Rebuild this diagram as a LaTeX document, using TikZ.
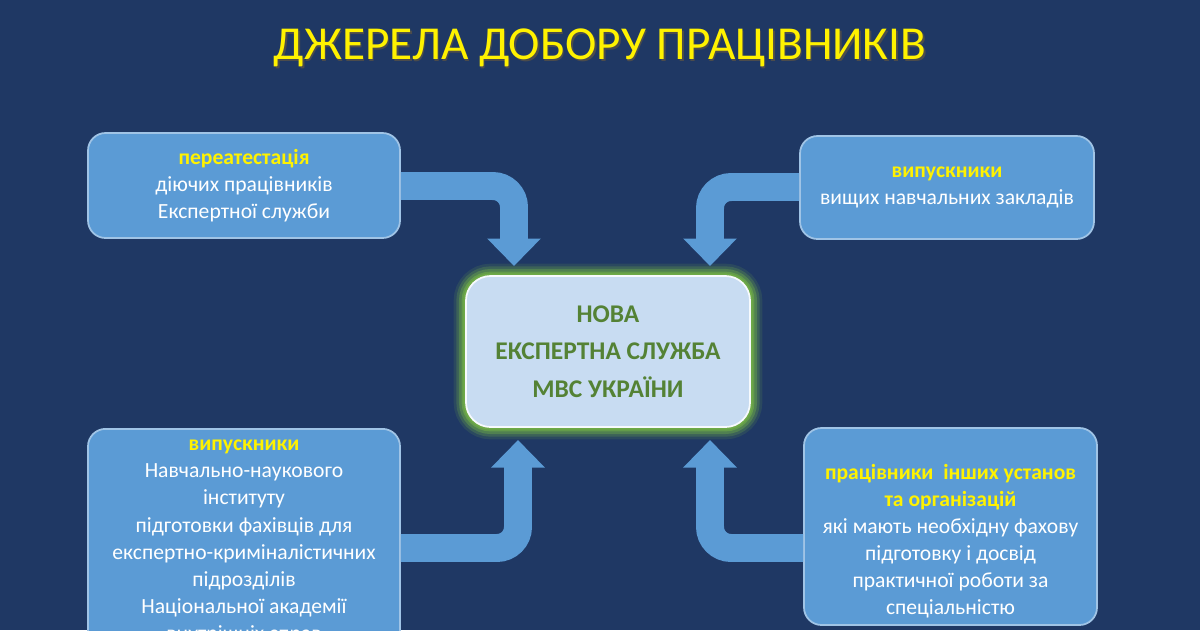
\documentclass[tikz,border=0pt]{standalone}
\usepackage{fontspec}
\setmainfont{Carlito}
\usetikzlibrary{arrows.meta}
\definecolor{bg}{RGB}{31,56,100}
\definecolor{bx}{RGB}{91,155,213}
\definecolor{bxl}{RGB}{160,196,230}
\definecolor{ctr}{RGB}{200,220,242}
\definecolor{grn}{RGB}{84,130,53}
\definecolor{glow}{RGB}{112,173,71}
\tikzset{
 srcbox/.style={draw=bxl,line width=1pt,fill=bx,rounded corners=10pt,text=white,align=center,font=\fontsize{12.3}{15.3}\selectfont,inner sep=0pt},
 txt/.style={text=white,align=center,font=\fontsize{12.3}{15.4}\selectfont,anchor=north},
 flow/.style={draw=bx,line width=15.9pt,rounded corners=12pt,-{Triangle[length=0.55cm 0,width=1.04cm 0]}}
}
\begin{document}
\begin{tikzpicture}[x=0.02cm,y=-0.02cm]
\fill[bg] (0,0) rectangle (1200,630);
\useasboundingbox (0,0) rectangle (1200,630);
\node[text=black!70,font=\fontsize{26.9}{30}\selectfont] at (601.5,49.5) {ДЖЕРЕЛА ДОБОРУ ПРАЦІВНИКІВ};
\node (title) [text=yellow,font=\fontsize{26.9}{30}\selectfont] at (600,48) {ДЖЕРЕЛА ДОБОРУ ПРАЦІВНИКІВ};
% boxes
\node (tl) [srcbox,minimum width=312*0.02cm,minimum height=105*0.02cm] at (244,185.5) {{\bfseries\color{yellow}переатестація}\\діючих працівників\\Експертної служби};
\node (tr) [srcbox,minimum width=294*0.02cm,minimum height=103*0.02cm] at (947,187.5) {{\bfseries\color{yellow}випускники}\\вищих навчальних закладів};
\node (bl) [srcbox,minimum width=312*0.02cm,minimum height=230*0.02cm,anchor=north] at (244,428) {};
\node[txt] at (244,434) {{\bfseries\color{yellow}випускники}\\Навчально-наукового\\інституту\\підготовки фахівців для\\експертно-криміналістичних\\підрозділів\\Національної академії\\внутрішніх справ};
\node (br) [srcbox,minimum width=293*0.02cm,minimum height=197*0.02cm] at (950.5,526.5) {};
\node[txt] at (950.5,458) {{\bfseries\color{yellow}працівники\ \ інших установ}\\{\bfseries\color{yellow}та організацій}\\які мають необхідну фахову\\підготовку і досвід\\практичної роботи за\\спеціальністю};
% center glow
\foreach \w/\o in {14/0.15,11/0.25,8/0.4,5/0.6,3/0.85}
  \draw[glow,line width=\w pt,opacity=\o,rounded corners=14pt] (466,276) rectangle (750,427);
\node (c) [draw=white!85!ctr,line width=1pt,fill=ctr,rounded corners=14pt,minimum width=284*0.02cm,minimum height=151*0.02cm,text=grn,font=\bfseries\fontsize{14.5}{21.5}\selectfont,align=center] at (608,351.5) {НОВА\\ЕКСПЕРТНА СЛУЖБА\\МВС УКРАЇНИ};
% arrows
\coordinate (t1) at (514,266);
\coordinate (t2) at (710,266);
\coordinate (t3) at (518,440);
\coordinate (t4) at (710,440);
\draw[flow] (tl.east |- 0,186) -- (514,186) -- (t1);
\draw[flow] (tr.west |- 0,187) -- (710,187) -- (t2);
\draw[flow] (bl.east |- 0,548) -- (518,548) -- (t3);
\draw[flow] (br.west |- 0,548) -- (710,548) -- (t4);
\end{tikzpicture}
\end{document}
